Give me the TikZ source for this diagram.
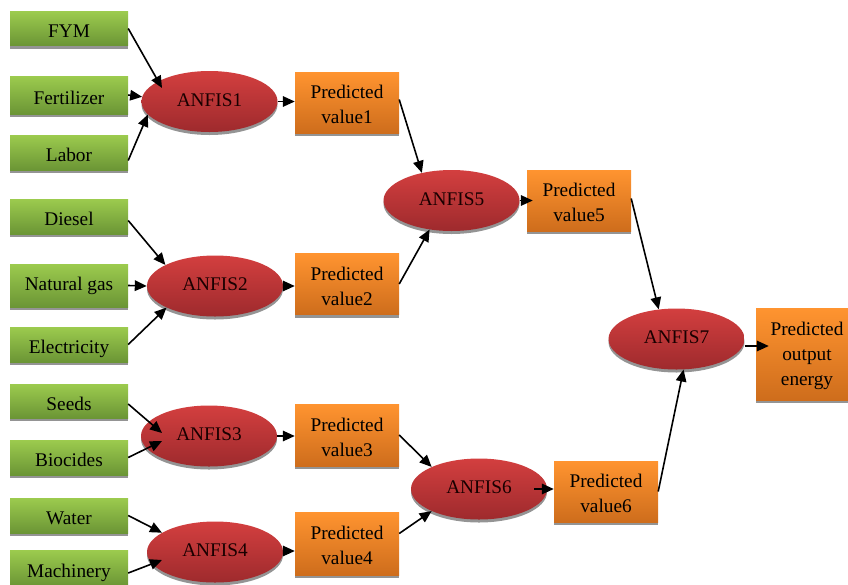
\documentclass[tikz,border=0pt]{standalone}
\usepackage{fontspec}
\setmainfont{Liberation Serif}[Ligatures=TeX]
\newfontfamily\diagfont{Liberation Serif}
\usetikzlibrary{shapes.geometric,shadows,arrows.meta,calc}
\definecolor{gtop}{HTML}{9CCB4E}
\definecolor{gbot}{HTML}{6B9535}
\definecolor{otop}{HTML}{FF9430}
\definecolor{obot}{HTML}{CE6D1C}
\definecolor{rtop}{HTML}{D33F3F}
\definecolor{rbot}{HTML}{9E2A2D}
\tikzset{
 shad/.style={drop shadow={shadow xshift=0pt,shadow yshift=-3pt,fill=black!42,opacity=1}},
 txt/.style={font=\diagfont\fontsize{19.3}{25}\selectfont},
 inbox/.style={shad, txt, rectangle, top color=gtop, bottom color=gbot, minimum width=118pt, inner sep=0pt, text height=19pt, text depth=1pt},
 pvbox/.style={shad, txt, rectangle, top color=otop, bottom color=obot, minimum width=104pt, minimum height=61pt, inner sep=0pt, align=center, text height=42pt, text depth=0pt},
 anfis/.style={shad, txt, ellipse, top color=rtop, bottom color=rbot, minimum width=136pt, minimum height=61pt, inner sep=0pt, text=black!90!red},
 arr/.style={-{Triangle[length=12pt,width=10.5pt]}, line width=1.6pt},
}
\begin{document}
\begin{tikzpicture}[x=1pt,y=-1pt]
\useasboundingbox (0,0) rectangle (848,584);
% inputs
\node[inbox, minimum height=34pt] (fym)   at (69,28.5)  {FYM};
\node[inbox, minimum height=38pt] (fert)  at (69,95)    {Fertilizer};
\node[inbox, minimum height=35pt] (labor) at (69,152.5) {Labor};
\node[inbox, minimum height=35pt] (diesel) at (69,216.5) {Diesel};
\node[inbox, minimum height=43pt, text height=15pt, text depth=5pt] (ngas)  at (69,285.5) {Natural gas};
\node[inbox, minimum height=35pt] (elec)  at (69,344.5) {Electricity};
\node[inbox, minimum height=34pt] (seeds) at (69,401)   {Seeds};
\node[inbox, minimum height=35pt] (bioc)  at (69,457.5) {Biocides};
\node[inbox, minimum height=35pt] (water) at (69,515.5) {Water};
\node[inbox, minimum height=36pt] (mach)  at (69,568)   {Machinery};
% anfis
\node[anfis] (a1) at (209.5,101.5) {\raisebox{3pt}{ANFIS1}};
\node[anfis] (a2) at (215,286)     {\raisebox{3pt}{ANFIS2}};
\node[anfis] (a3) at (209,436)     {\raisebox{3pt}{ANFIS3}};
\node[anfis] (a4) at (215,552)     {\raisebox{3pt}{ANFIS4}};
\node[anfis] (a5) at (451.5,200.5) {\raisebox{3pt}{ANFIS5}};
\node[anfis] (a6) at (479,489)     {\raisebox{3pt}{ANFIS6}};
\node[anfis] (a7) at (676.5,339)   {\raisebox{3pt}{ANFIS7}};
% predicted
\node[pvbox] (pv1) at (347,102.5) {Predicted\\value1};
\node[pvbox] (pv2) at (347,284)   {Predicted\\value2};
\node[pvbox, minimum height=62pt] (pv3) at (347,435)   {Predicted\\value3};
\node[pvbox, minimum height=63pt] (pv4) at (347,543.5) {Predicted\\value4};
\node[pvbox] (pv5) at (579,200.5) {Predicted\\value5};
\node[pvbox] (pv6) at (606,491.5) {Predicted\\value6};
\node[pvbox, minimum width=102pt, minimum height=92pt, text height=65pt, text depth=3pt] (po) at (807,354) {Predicted\\output\\energy};
% tips inside ellipses
\coordinate (t11) at (162,88);
\coordinate (t31) at (162,433);
\coordinate (t32) at (162,441);
\coordinate (t42) at (162,560);
% connectors to ANFIS1..4
\draw[arr] (fym.east) -- (t11);
\draw[arr] (fert.east) -- (a1.176);
\draw[arr] ($(labor.east)+(0,8)$) -- (a1.192);
\draw[arr] ($(diesel.east)+(0,4)$) -- (a2.157);
\draw[arr] (ngas.east) -- (a2.180);
\draw[arr] (elec.east) -- (a2.204);
\draw[arr] ($(seeds.east)+(0,3)$) -- (t31);
\draw[arr] (bioc.east) -- (t32);
\draw[arr] (water.east) -- (a4.160);
\draw[arr] ($(mach.east)+(0,5)$) -- (t42);
% outputs of first layer
\draw[arr] (a1.east) -- (a1.east -| pv1.west);
\draw[arr] (a2.east) -- (a2.east -| pv2.west);
\draw[arr] (a3.east) -- (a3.east -| pv3.west);
\draw[arr] ($(a4.east)+(0,-1)$) -- ($(a4.east -| pv4.west)+(0,-1)$);
% second layer
\draw[arr] ($(pv1.east)+(0,-3)$) -- (a5.137);
\draw[arr] (pv2.east) -- (a5.233);
\draw[arr] (pv3.east) -- (a6.155);
\draw[arr] ($(pv4.east)+(0,-10)$) -- (a6.205);
\draw[arr] (a5.east) -- ($(a5.east -| pv5.west)+(6,0)$);
\draw[arr] ($(a6.east)+(-13,0)$) -- (a6.east -| pv6.west);
% third layer
\draw[arr] ($(pv5.east)+(0,-2)$) -- (a7.121);
\draw[arr] (pv6.east) -- (a7.283);
\draw[arr] ($(a7.east)+(0,7)$) -- ($(a7.east -| po.west)+(13,7)$);
\end{tikzpicture}
\end{document}
